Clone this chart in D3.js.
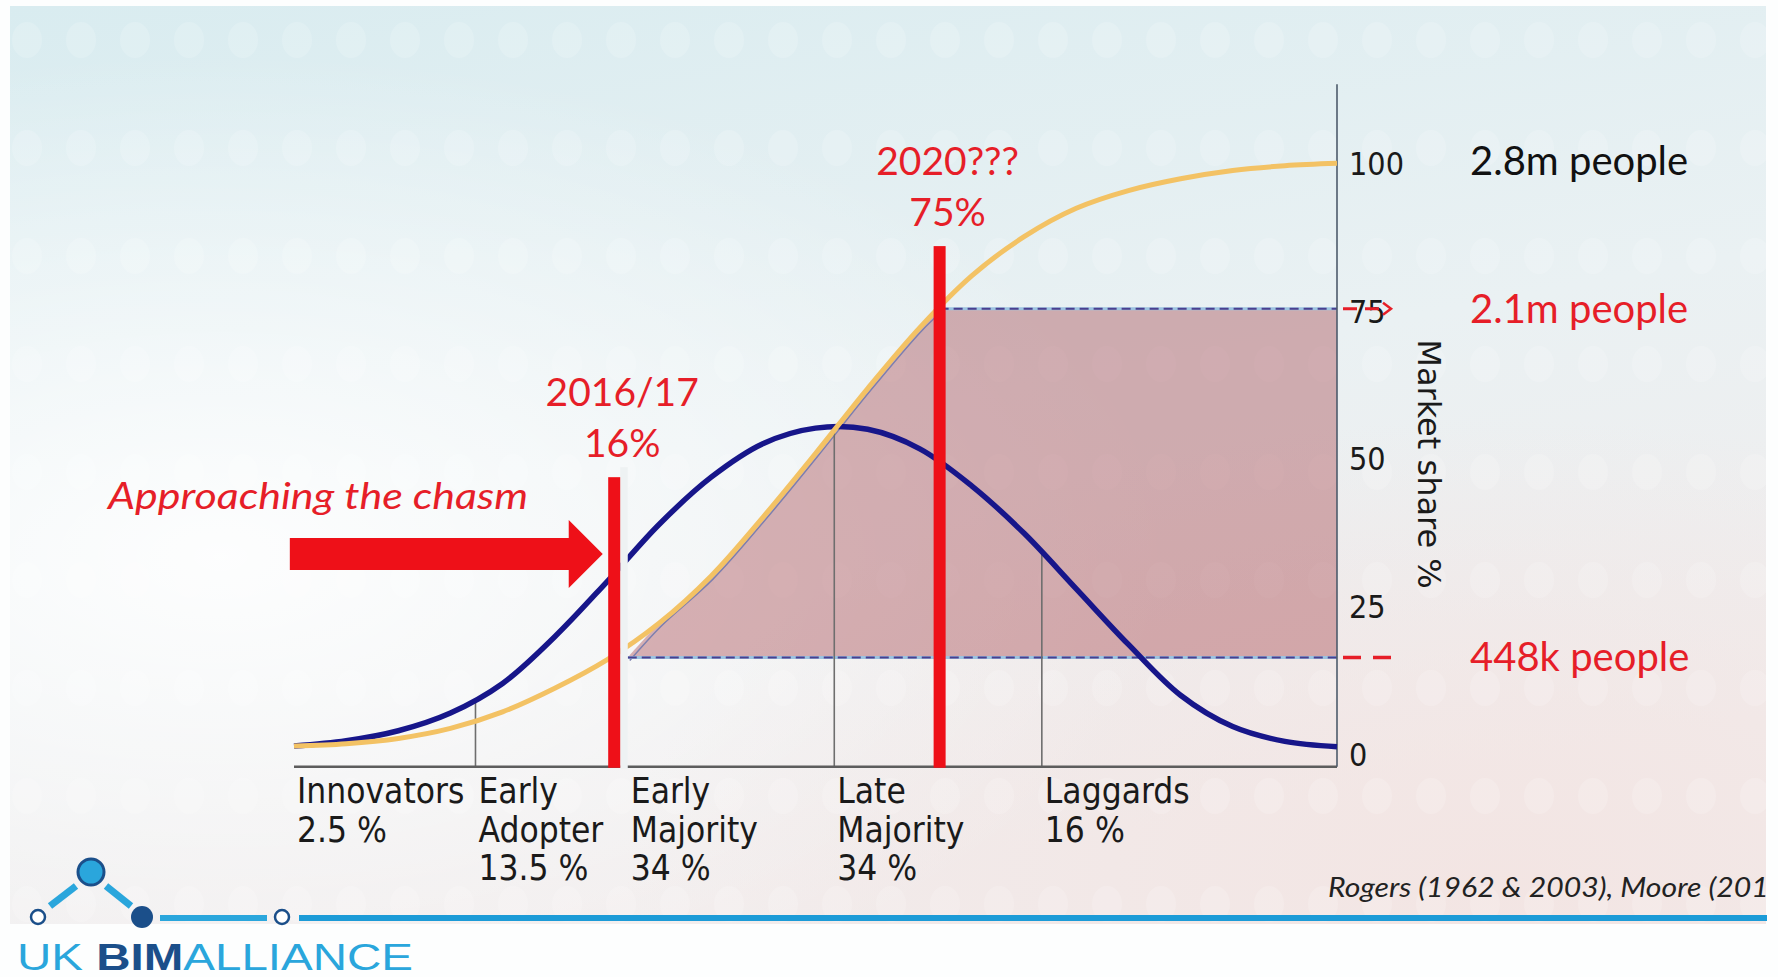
<!DOCTYPE html>
<html>
<head>
<meta charset="utf-8">
<script src="https://cdn.jsdelivr.net/npm/d3@7"></script>
<style>
  body { margin: 0; background: #fff; }
  svg { display: block; }
</style>
</head>
<body>
<svg width="1778" height="977"></svg>
<script>
// position along the adoption timeline (0 = left end, 100 = right axis)
const timeline = [0, 5, 10, 15, 20, 25, 30, 35, 40, 45, 50, 55, 60, 65, 70, 75, 80, 85, 90, 95, 100];
// bell curve (adopters per period), read on the market share scale
const bellCurve = [1.0, 1.9, 3.6, 6.6, 11.6, 19.5, 28.8, 38.5, 46.5, 52.2, 54.8, 54.6, 51.3, 45.0, 37.0, 27.6, 18.2, 9.6, 4.3, 1.8, 0.9];
// cumulative market share %
const adoptionCurve = [1.0, 1.4, 2.3, 4.0, 6.8, 10.8, 15.6, 21.8, 29.8, 39.8, 50.5, 61.5, 71.8, 80.6, 87.2, 92.0, 95.0, 97.0, 98.4, 99.2, 99.6];

const categoryNames = [["Innovators"], ["Early", "Adopter"], ["Early", "Majority"], ["Late", "Majority"], ["Laggards"]];
const categoryShares = ["2.5 %", "13.5 %", "34 %", "34 %", "16 %"];
const categoryStarts = [0, 17.4, 32.0, 51.8, 71.7];
const dividerTops = [null, 8.6, null, 55, 33.7];

const yTicks = [0, 25, 50, 75, 100];

const milestoneLabels = [["2016/17", "16%"], ["2020???", "75%"]];
const milestoneAt = [30.7, 61.9];
const milestoneShare = [16, 75];
const milestoneBarTop = [46.5, 85.6];

const peopleLevels = [100, 75, 16];
const peopleLabels = ["2.8m people", "2.1m people", "448k people"];

const svg = d3.select('svg');
const x = d3.scaleLinear().domain([0, 100]).range([294, 1337]);
const y = d3.scaleLinear().domain([0, 100]).range([752, 161]);

const condensed = "'DejaVu Sans Condensed', 'DejaVu Sans', sans-serif";
const slideFont = "Lato, 'Open Sans', sans-serif";
const red = '#e61e28';

// ---- slide background ----
const defs = svg.append('defs');
const bg = defs.append('linearGradient').attr('id', 'bg').attr('x1', 0).attr('y1', 0).attr('x2', 0.35).attr('y2', 1);
bg.append('stop').attr('offset', '0%').attr('stop-color', '#d9ecf0');
bg.append('stop').attr('offset', '55%').attr('stop-color', '#eaf1f3');
bg.append('stop').attr('offset', '100%').attr('stop-color', '#f1ecec');
const glow = defs.append('radialGradient').attr('id', 'glow').attr('cx', 0.12).attr('cy', 0.6).attr('r', 0.55);
glow.append('stop').attr('offset', '0%').attr('stop-color', '#ffffff').attr('stop-opacity', 0.9);
glow.append('stop').attr('offset', '100%').attr('stop-color', '#ffffff').attr('stop-opacity', 0);
const pink = defs.append('radialGradient').attr('id', 'pink').attr('cx', 0.85).attr('cy', 0.95).attr('r', 0.5);
pink.append('stop').attr('offset', '0%').attr('stop-color', '#f3e4e2').attr('stop-opacity', 0.9);
pink.append('stop').attr('offset', '100%').attr('stop-color', '#f3e4e2').attr('stop-opacity', 0);
const dots = defs.append('pattern').attr('id', 'dots').attr('patternUnits', 'userSpaceOnUse')
  .attr('width', 54).attr('height', 108);
dots.append('ellipse').attr('cx', 27).attr('cy', 40).attr('rx', 15).attr('ry', 18).attr('fill', '#fff');

svg.append('rect').attr('width', 1778).attr('height', 977).attr('fill', '#fdfefe');
svg.append('rect').attr('x', 10).attr('y', 6).attr('width', 1756).attr('height', 918).attr('fill', 'url(#bg)');
svg.append('rect').attr('x', 10).attr('y', 6).attr('width', 1756).attr('height', 918).attr('fill', 'url(#glow)');
svg.append('rect').attr('x', 10).attr('y', 6).attr('width', 1756).attr('height', 918).attr('fill', 'url(#pink)');
svg.append('rect').attr('x', 10).attr('y', 6).attr('width', 1756).attr('height', 918).attr('fill', 'url(#dots)').attr('opacity', 0.15);

// ---- shaded market between 16% and 75% ----
const startX = categoryStarts[2];
const edgePts = [[startX, milestoneShare[0]]]
  .concat(timeline.map((t, i) => [t, adoptionCurve[i]]).filter(p => p[0] > startX + 1 && p[0] < milestoneAt[1] - 1))
  .concat([[milestoneAt[1], milestoneShare[1]]]);
const edgeLine = d3.line().x(d => x(d[0])).y(d => y(d[1])).curve(d3.curveCatmullRom);
svg.append('path')
  .attr('d', edgeLine(edgePts) + `L${x(100)},${y(milestoneShare[1])}L${x(100)},${y(milestoneShare[0])}Z`)
  .attr('fill', 'rgba(160, 58, 66, 0.38)');
svg.append('path')
  .attr('d', edgeLine(edgePts))
  .attr('transform', 'translate(2,3)')
  .attr('fill', 'none').attr('stroke', '#7d7fae').attr('stroke-width', 1.5);

// dashed share lines
milestoneShare.forEach((s, i) => {
  const x0 = i === 0 ? startX : milestoneAt[1];
  svg.append('line').attr('x1', x(x0)).attr('x2', x(100)).attr('y1', y(s)).attr('y2', y(s))
    .attr('stroke', '#9cc3e0').attr('stroke-width', 3);
  svg.append('line').attr('x1', x(x0)).attr('x2', x(100)).attr('y1', y(s)).attr('y2', y(s))
    .attr('stroke', '#4a3f8f').attr('stroke-width', 2).attr('stroke-dasharray', '9,5');
});

// category dividers
categoryStarts.forEach((c, i) => {
  if (dividerTops[i] == null) return;
  svg.append('line').attr('x1', x(c)).attr('x2', x(c)).attr('y1', y(-2.5)).attr('y2', y(dividerTops[i]))
    .attr('stroke', '#6e6e6e').attr('stroke-width', 1.6);
});

// baseline and right axis
svg.append('line').attr('x1', x(0)).attr('x2', x(100)).attr('y1', y(-2.5)).attr('y2', y(-2.5))
  .attr('stroke', '#5d5d5d').attr('stroke-width', 2.5);
svg.append('line').attr('x1', x(100)).attr('x2', x(100)).attr('y1', y(-2.5)).attr('y2', y(113))
  .attr('stroke', '#4d5b6b').attr('stroke-width', 1.6);

const axis = svg.append('g').attr('transform', `translate(${x(100)},0)`)
  .call(d3.axisRight(y).tickValues(yTicks).tickSize(0).tickPadding(12));
axis.select('.domain').remove();
axis.selectAll('text').attr('font-family', condensed).attr('font-size', 32)
  .attr('fill', '#1a1a1a').attr('dy', '0.42em');

svg.append('text')
  .attr('transform', `translate(1418, 464) rotate(90)`)
  .attr('text-anchor', 'middle')
  .attr('font-family', "'DejaVu Sans', sans-serif").attr('font-size', 32).attr('fill', '#1a1a1a')
  .text('Market share %');

// ---- curves ----
const curveLine = vals => d3.line().x((d, i) => x(timeline[i])).y(d => y(d)).curve(d3.curveCatmullRom)(vals);
svg.append('path').attr('d', curveLine(bellCurve))
  .attr('fill', 'none').attr('stroke', '#17168a').attr('stroke-width', 5.5);
svg.append('path').attr('d', curveLine(adoptionCurve))
  .attr('fill', 'none').attr('stroke', '#f3c264').attr('stroke-width', 5);

// ---- milestone bars ----
svg.append('rect').attr('x', x(milestoneAt[0]) + 6).attr('width', x(startX) - x(milestoneAt[0]) - 6)
  .attr('y', y(milestoneBarTop[0]) - 10).attr('height', y(-2.5) - y(milestoneBarTop[0]) + 12)
  .attr('fill', '#eef2f3');
milestoneAt.forEach((m, i) => {
  svg.append('rect').attr('x', x(m) - 6).attr('width', 12)
    .attr('y', y(milestoneBarTop[i])).attr('height', y(-2.5) - y(milestoneBarTop[i]) + 1)
    .attr('fill', '#ee1018');
  milestoneLabels[i].forEach((t, j) => {
    svg.append('text')
      .attr('x', x(m) + 8).attr('y', y(milestoneBarTop[i]) - 71 + j * 51)
      .attr('text-anchor', 'middle')
      .attr('font-family', slideFont).attr('font-size', 39).attr('fill', red)
      .text(t);
  });
});

// arrow towards the chasm
const ay = y(33.5), tip = x(29.6);
svg.append('path')
  .attr('d', `M${x(-0.4)},${ay - 16} L${tip - 34},${ay - 16} L${tip - 34},${ay - 34} L${tip},${ay}
    L${tip - 34},${ay + 34} L${tip - 34},${ay + 16} L${x(-0.4)},${ay + 16} Z`)
  .attr('fill', '#ee1018');
svg.append('text').attr('x', 108).attr('y', 509)
  .attr('font-family', slideFont).attr('font-style', 'italic').attr('font-size', 37).attr('fill', red)
  .attr('textLength', 420).attr('lengthAdjust', 'spacingAndGlyphs')
  .text('Approaching the chasm');

// people markers on the right
svg.append('line').attr('x1', x(100) + 6).attr('x2', x(100) + 50).attr('y1', y(75)).attr('y2', y(75))
  .attr('stroke', red).attr('stroke-width', 3).attr('stroke-dasharray', '14,8');
svg.append('path')
  .attr('d', `M${x(100) + 46},${y(75) - 6} L${x(100) + 54},${y(75)} L${x(100) + 46},${y(75) + 6}`)
  .attr('fill', 'none').attr('stroke', red).attr('stroke-width', 2.5);
svg.append('line').attr('x1', x(100) + 6).attr('x2', x(100) + 54).attr('y1', y(16)).attr('y2', y(16))
  .attr('stroke', red).attr('stroke-width', 3.5).attr('stroke-dasharray', '18,12');

peopleLevels.forEach((p, i) => {
  svg.append('text').attr('x', 1470).attr('y', y(p) + 14)
    .attr('font-family', slideFont).attr('font-size', 40)
    .attr('fill', i === 0 ? '#111' : red)
    .text(peopleLabels[i]);
});

// ---- category labels ----
categoryStarts.forEach((c, i) => {
  const lines = categoryNames[i].concat([categoryShares[i]]);
  lines.forEach((t, j) => {
    svg.append('text').attr('x', x(c) + 3).attr('y', 803 + j * 38.5)
      .attr('font-family', condensed).attr('font-stretch', 'condensed')
      .attr('font-size', 35).attr('fill', '#1a1a1a')
      .text(t);
  });
});

// ---- source and footer ----
defs.append('clipPath').attr('id', 'clipSrc').append('rect')
  .attr('x', 1300).attr('y', 860).attr('width', 467).attr('height', 60);
svg.append('g').attr('clip-path', 'url(#clipSrc)')
  .append('text').attr('x', 1328).attr('y', 897)
  .attr('font-family', slideFont).attr('font-style', 'italic').attr('font-size', 27).attr('fill', '#222')
  .attr('textLength', 466).attr('lengthAdjust', 'spacingAndGlyphs')
  .text('Rogers (1962 & 2003), Moore (2015)');

svg.append('line').attr('x1', 160).attr('x2', 267).attr('y1', 918).attr('y2', 918)
  .attr('stroke', '#2aa6dc').attr('stroke-width', 6);
svg.append('line').attr('x1', 299).attr('x2', 1767).attr('y1', 918).attr('y2', 918)
  .attr('stroke', '#1c9bd7').attr('stroke-width', 6);

// logo
const logo = svg.append('g');
logo.append('line').attr('x1', 50).attr('y1', 906).attr('x2', 76).attr('y2', 886)
  .attr('stroke', '#2aa6dc').attr('stroke-width', 7);
logo.append('line').attr('x1', 106).attr('y1', 886).attr('x2', 131).attr('y2', 906)
  .attr('stroke', '#2aa6dc').attr('stroke-width', 7);
logo.append('circle').attr('cx', 91).attr('cy', 872).attr('r', 13)
  .attr('fill', '#2aa6dc').attr('stroke', '#1b4f8a').attr('stroke-width', 3);
logo.append('circle').attr('cx', 38).attr('cy', 917).attr('r', 7)
  .attr('fill', '#fff').attr('stroke', '#1b4f8a').attr('stroke-width', 2.5);
logo.append('circle').attr('cx', 142).attr('cy', 917).attr('r', 11).attr('fill', '#1b4f8a');
logo.append('circle').attr('cx', 282).attr('cy', 917).attr('r', 7)
  .attr('fill', '#fff').attr('stroke', '#1b4f8a').attr('stroke-width', 2.5);
const brand = logo.append('text').attr('x', 17).attr('y', 970)
  .attr('font-family', "'Liberation Sans', Arial, sans-serif").attr('font-size', 37)
  .attr('textLength', 396).attr('lengthAdjust', 'spacingAndGlyphs');
brand.append('tspan').attr('fill', '#2aa6dc').text('UK ');
brand.append('tspan').attr('fill', '#1b4f8a').attr('font-weight', 'bold').text('BIM');
brand.append('tspan').attr('fill', '#2aa6dc').text('ALLIANCE');
</script>
</body>
</html>
